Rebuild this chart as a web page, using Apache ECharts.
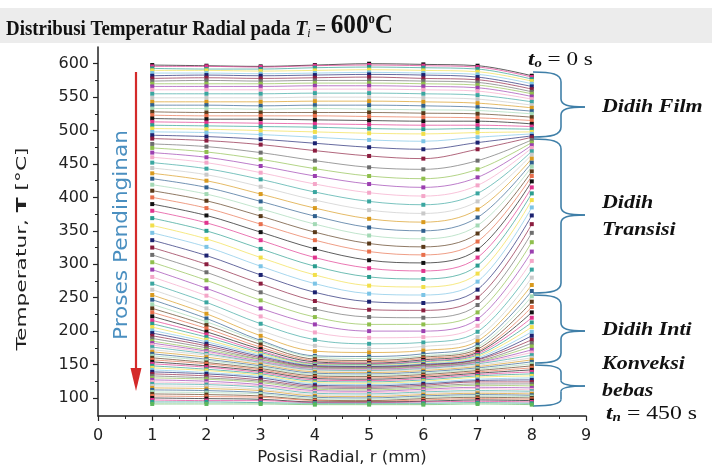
<!DOCTYPE html>
<html><head><meta charset="utf-8">
<script src="https://cdn.jsdelivr.net/npm/echarts@6/dist/echarts.min.js"></script>
<style>html,body{margin:0;padding:0;background:#fff}#c{width:712px;height:471px}</style>
</head><body><div id="c"></div>
<script>
// Radial positions (mm)
const positions = [1, 2, 3, 4, 5, 6, 7, 8];
// Y tick labels
const yTicks = [100, 150, 200, 250, 300, 350, 400, 450, 500, 550, 600];
const yMinorTicks = [125, 175, 225, 275, 325, 375, 425, 475, 525, 575];
// Film boiling curves (T at r = 1..8)
const filmCurves = [
  [598,597,596,598,600,599,597,582],
  [596,596,595,597,598,597,595,580],
  [593,592,592,594,595,594,592,577],
  [590,590,589,590,591,590,588,574],
  [586,586,585,586,587,586,584,570],
  [582,583,582,583,584,583,580,566],
  [578,579,578,579,580,578,576,562],
  [574,575,574,575,575,574,572,558],
  [570,570,570,571,571,570,568,555],
  [566,566,566,567,567,566,564,551],
  [561,561,561,562,562,561,559,547],
  [555,555,555,556,556,555,553,543],
  [549,549,549,550,550,549,547,538],
  [543,543,543,544,544,543,541,534],
  [538,538,537,538,538,537,535,529],
  [533,533,532,533,532,531,530,525],
  [528,527,527,527,527,526,525,520],
  [523,522,522,522,521,520,519,515],
  [518,517,517,516,515,514,514,510],
  [513,512,511,510,509,508,508,506],
  [508,507,506,505,503,502,503,502],
  [503,502,500,498,496,495,497,498],
  [498,497,494,490,486,484,490,495],
  [493,491,487,481,475,472,482,492],
  [488,485,479,470,462,458,472,490]
];
// Transition boiling curves
const transitionCurves = [
  [480,476,467,455,445,442,455,486],
  [474,468,457,443,432,428,442,482],
  [467,460,447,432,420,415,430,478],
  [460,452,437,420,407,402,418,474],
  [452,443,427,408,394,389,406,469],
  [444,434,416,396,381,376,394,464],
  [436,425,405,384,368,363,382,458],
  [428,415,394,372,355,350,370,452],
  [419,405,383,360,343,338,358,446],
  [410,395,372,348,331,326,346,439],
  [400,384,360,336,319,314,334,432],
  [390,373,348,323,306,302,322,424],
  [380,362,336,310,294,290,310,415],
  [369,350,323,297,281,278,298,406],
  [358,338,310,284,268,266,286,396],
  [347,326,297,271,256,254,274,385],
  [336,313,284,258,244,242,262,373],
  [325,300,271,245,232,231,250,360],
  [314,288,258,233,221,220,239,347],
  [303,276,246,221,210,210,228,333],
  [292,264,234,210,200,200,218,319],
  [281,253,222,198,190,191,208,305],
  [271,243,211,187,181,183,199,292],
  [262,234,201,178,174,177,191,280],
  [254,226,193,170,168,171,185,269],
  [247,219,186,163,162,166,180,260]
];
// Nucleate boiling curves
const nucleateCurves = [
  [240,214,184,161,159,163,176,252],
  [234,209,180,158,156,161,173,244],
  [228,204,176,156,154,159,170,236],
  [222,199,173,154,152,157,168,228],
  [216,195,170,152,151,155,166,220],
  [211,191,168,151,150,154,164,213],
  [206,187,166,150,149,152,162,206],
  [201,184,164,149,148,151,160,199],
  [197,181,162,148,147,150,158,193],
  [193,178,160,147,146,149,157,187],
  [189,175,158,146,145,148,155,182],
  [185,172,157,145,144,147,154,177],
  [182,170,155,144,143,146,153,172],
  [179,168,154,143,142,145,152,168],
  [176,166,153,142,141,144,151,164]
];
// Free convection curves
const convectionCurves = [
  [172,164,152,141,140,143,149,160],
  [169,161,150,139,138,141,147,157],
  [166,158,148,137,136,139,145,154],
  [163,156,146,135,134,137,143,151],
  [160,153,144,133,132,135,141,148],
  [157,151,142,131,130,133,139,145],
  [154,148,140,129,128,131,137,142],
  [151,146,138,127,126,129,135,139],
  [148,143,136,125,124,127,133,136],
  [145,141,134,123,122,125,131,133],
  [142,138,132,121,120,123,128,130],
  [139,136,130,119,118,121,126,127],
  [136,133,127,117,116,119,124,124],
  [133,130,125,115,114,117,121,121],
  [130,128,123,113,112,115,119,118],
  [127,125,120,111,110,113,116,115],
  [124,122,118,109,108,111,114,112],
  [121,120,116,107,106,109,111,110],
  [118,117,113,105,104,107,109,108],
  [115,114,111,103,102,105,107,106],
  [112,111,108,101,100,103,105,104],
  [109,108,106,99,98,101,103,102],
  [106,105,103,97,96,99,101,100],
  [103,102,101,96,95,97,99,98],
  [100,99,98,94,94,95,97,96],
  [97,96,96,93,93,94,95,94],
  [94,94,93,92,92,92,93,92],
  [91,91,91,90,90,90,91,90]
];
const palette = ['#111111','#e0358e','#2a9d8f','#f2df4a','#7cc4e6','#1c2270','#8b1d3f','#6e6e6e','#8fbf4d','#9b3fb0','#f4a6c8','#3aa6a0','#c9c9c9','#d99a1e','#2f5f8e','#a3d9b5','#5a3a1a','#e86f4c'];
const lastCurveColor = '#5cb85c';

const curves = [...filmCurves, ...transitionCurves, ...nucleateCurves, ...convectionCurves];
const series = curves.map((c, k) => {
  const col = k === curves.length - 1 ? lastCurveColor : palette[k % palette.length];
  return {
    type: 'line', silent: true, animation: false,
    data: positions.map((x, i) => [x, c[i]]),
    symbol: 'rect', symbolSize: 4, smooth: 0.35,
    lineStyle: { width: 0.8, color: col, opacity: 0.85 },
    itemStyle: { color: col }
  };
});

const serif = 'Liberation Serif';
const sans = 'DejaVu Sans';
const braceColor = '#3f7fa8';

// curly brace annotation built from line + bezier pieces (pixel layout)
function brace(top, tip, bottom, leftTop, leftBottom) {
  const xv = 561, xt = 585;
  const st = { stroke: braceColor, lineWidth: 1.6, fill: null };
  const r1 = Math.min(10, (tip - top) / 3), r2 = Math.min(10, (bottom - tip) / 3);
  const e = [];
  e.push({ type: 'bezierCurve', shape: { x1: leftTop, y1: top, cpx1: 552, cpy1: top, cpx2: xv, cpy2: top + 2, x2: xv, y2: top + r1 }, style: st });
  e.push({ type: 'line', shape: { x1: xv, y1: top + r1, x2: xv, y2: tip - r1 * 0.8 }, style: st });
  e.push({ type: 'bezierCurve', shape: { x1: xv, y1: tip - r1 * 0.8, cpx1: xv, cpy1: tip - 2, cpx2: 568, cpy2: tip, x2: xt, y2: tip }, style: st });
  e.push({ type: 'bezierCurve', shape: { x1: xt, y1: tip, cpx1: 568, cpy1: tip, cpx2: xv, cpy2: tip + 2, x2: xv, y2: tip + r2 * 0.8 }, style: st });
  e.push({ type: 'line', shape: { x1: xv, y1: tip + r2 * 0.8, x2: xv, y2: bottom - r2 }, style: st });
  e.push({ type: 'bezierCurve', shape: { x1: xv, y1: bottom - r2, cpx1: xv, cpy1: bottom - 2, cpx2: 552, cpy2: bottom, x2: leftBottom, y2: bottom }, style: st });
  return e;
}

const rightText = (txt, x, y) => ({ type: 'text', x: x, y: y, scaleX: 1.22, style: { text: txt, align: 'left', verticalAlign: 'middle', fontFamily: serif, fontWeight: 'bold', fontStyle: 'italic', fontSize: 18, fill: '#111' } });

const graphics = [
  { type: 'rect', z: -10, shape: { x: 0, y: 8, width: 712, height: 35 }, style: { fill: '#ececec' } },
  { type: 'text', x: 6, y: 40, scaleX: 0.9, style: {
      text: '{a|Distribusi Temperatur Radial pada }{it|T}{sub|i}{a| = }{big|600}{sup|o}{big|C}',
      verticalAlign: 'bottom', align: 'left',
      rich: {
        a: { fontFamily: serif, fontWeight: 'bold', fontSize: 21, fill: '#111', verticalAlign: 'bottom' },
        it: { fontFamily: serif, fontWeight: 'bold', fontStyle: 'italic', fontSize: 22, fill: '#111', verticalAlign: 'bottom' },
        sub: { fontFamily: serif, fontStyle: 'italic', fontSize: 13, fill: '#111', verticalAlign: 'bottom' },
        big: { fontFamily: serif, fontWeight: 'bold', fontSize: 28, fill: '#111', verticalAlign: 'bottom' },
        sup: { fontFamily: serif, fontWeight: 'bold', fontSize: 14, fill: '#111', verticalAlign: 'top' }
      } } },
  { type: 'text', x: 22, y: 249, rotation: Math.PI / 2, scaleX: 1.55, style: {
      text: '{n|Temperatur, }{b|T}{n| [°C]}', align: 'center', verticalAlign: 'middle',
      rich: { n: { fontFamily: sans, fontSize: 14, fill: '#222' }, b: { fontFamily: sans, fontWeight: 'bold', fontSize: 14, fill: '#222' } } } },
  { type: 'text', x: 342, y: 458, scaleX: 1.1, style: {
      text: 'Posisi Radial, r (mm)', align: 'center', verticalAlign: 'middle', fontFamily: sans, fontSize: 15, fill: '#222' } },
  { type: 'text', x: 122, y: 235, rotation: Math.PI / 2, scaleX: 1.08, style: {
      text: 'Proses Pendinginan', align: 'center', verticalAlign: 'middle', fontFamily: sans, fontSize: 20, fill: '#4a8fc0' } },
  { type: 'line', shape: { x1: 136, y1: 72, x2: 136, y2: 372 }, style: { stroke: '#d42a2a', lineWidth: 2.2 } },
  { type: 'polygon', shape: { points: [[130.5, 368], [141.5, 368], [136, 391]] }, style: { fill: '#d42a2a' } },
  ...brace(72, 107, 137, 533, 533),
  ...brace(139, 215, 293, 533, 533),
  ...brace(295, 331, 363, 533, 535),
  ...brace(365, 386, 406, 535, 533),
  { type: 'text', x: 528, y: 60, scaleX: 1.22, style: {
      text: '{t|t}{s|o}{r| = 0 s}', align: 'left', verticalAlign: 'middle',
      rich: { t: { fontFamily: serif, fontWeight: 'bold', fontStyle: 'italic', fontSize: 19, fill: '#111', verticalAlign: 'bottom' },
              s: { fontFamily: serif, fontWeight: 'bold', fontStyle: 'italic', fontSize: 12, fill: '#111', verticalAlign: 'bottom' },
              r: { fontFamily: serif, fontSize: 19, fill: '#111', verticalAlign: 'bottom' } } } },
  rightText('Didih Film', 602, 107),
  rightText('Didih', 602, 203),
  rightText('Transisi', 602, 230),
  rightText('Didih Inti', 602, 330),
  rightText('Konveksi', 602, 364),
  rightText('bebas', 602, 391),
  { type: 'text', x: 606, y: 414, scaleX: 1.25, style: {
      text: '{t|t}{s|n}{r| = 450 s}', align: 'left', verticalAlign: 'middle',
      rich: { t: { fontFamily: serif, fontWeight: 'bold', fontStyle: 'italic', fontSize: 19, fill: '#111', verticalAlign: 'bottom' },
              s: { fontFamily: serif, fontWeight: 'bold', fontStyle: 'italic', fontSize: 12, fill: '#111', verticalAlign: 'bottom' },
              r: { fontFamily: serif, fontSize: 19, fill: '#111', verticalAlign: 'bottom' } } } }
];

const chart = echarts.init(document.getElementById('c'));
chart.setOption({
  animation: false,
  backgroundColor: '#ffffff',
  grid: { left: 98, right: 126, top: 47, bottom: 55 },
  xAxis: {
    type: 'value', min: 0, max: 9, interval: 1,
    axisLine: { show: true, onZero: false, lineStyle: { color: '#222', width: 1.5 } },
    axisTick: { show: true, length: 5, lineStyle: { color: '#222', width: 1.2 } },
    minorTick: { show: true, splitNumber: 2, length: 3, lineStyle: { color: '#222', width: 1 } },
    axisLabel: { fontFamily: sans, fontSize: 16, color: '#222', margin: 12 },
    splitLine: { show: false }
  },
  yAxis: [{
    type: 'value', min: 73, max: 625,
    axisLine: { show: true, onZero: false, lineStyle: { color: '#222', width: 1.5 } },
    axisTick: { show: true, length: 5, customValues: yTicks, lineStyle: { color: '#222', width: 1.2 } },
    axisLabel: { fontFamily: sans, fontSize: 16, color: '#222', margin: 9, customValues: yTicks },
    splitLine: { show: false }
  }, {
    type: 'value', min: 73, max: 625, position: 'left',
    axisLine: { show: false },
    axisTick: { show: true, length: 3, customValues: yMinorTicks, lineStyle: { color: '#222', width: 1 } },
    axisLabel: { show: false, customValues: yMinorTicks },
    splitLine: { show: false }
  }],
  series: series,
  graphic: graphics
});
</script></body></html>
